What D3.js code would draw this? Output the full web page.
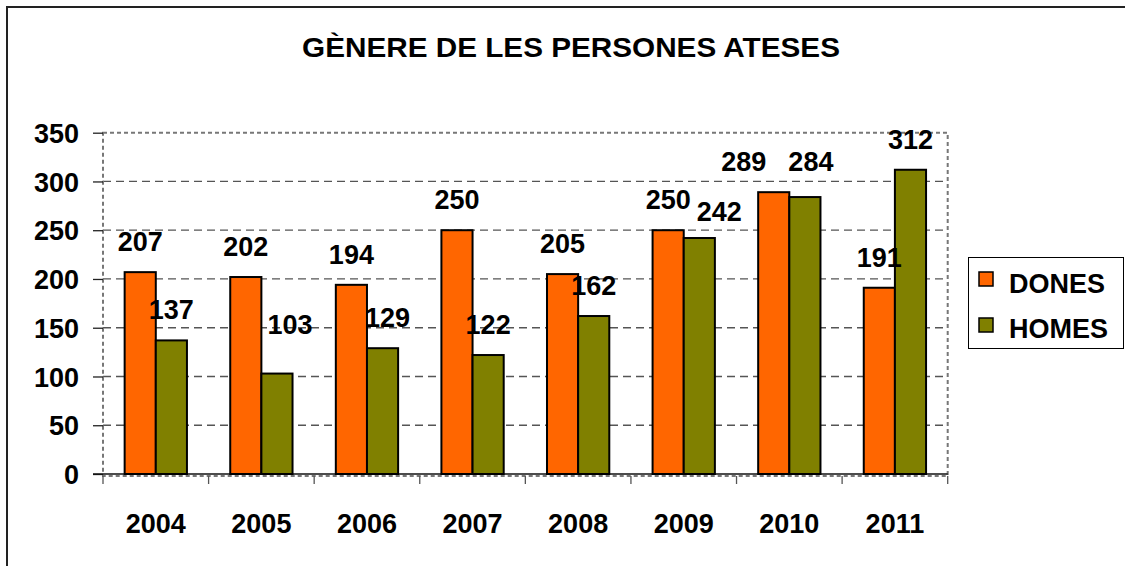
<!DOCTYPE html>
<html>
<head>
<meta charset="utf-8">
<script src="https://cdn.jsdelivr.net/npm/d3@7"></script>
<style>
  body { margin: 0; background: #fff; }
  text { font-family: "Liberation Sans", Arial, sans-serif; font-weight: bold; fill: #000; }
</style>
</head>
<body>
<div id="container"></div>
<script>
// data
const years = ["2004", "2005", "2006", "2007", "2008", "2009", "2010", "2011"];
const dones = [207, 202, 194, 250, 205, 250, 289, 191];
const homes = [137, 103, 129, 122, 162, 242, 284, 312];
const seriesNames = ["DONES", "HOMES"];
const yTicks = [0, 50, 100, 150, 200, 250, 300, 350];

// some labels were nudged by hand in the original chart (dx, dy in px)
const labelNudge = {
  "HOMES-2005": [13, -19],
  "HOMES-2006": [5, 0],
  "HOMES-2009": [20, 4],
  "DONES-2010": [-30, 0],
  "HOMES-2010": [6, -5]
};

function drawChart() {
  const width = 1125;
  const height = 566;
  const plot = { left: 103, right: 947.7, top: 132.7, bottom: 474 };
  const colors = ["#FF6600", "#808000"];

  const svg = d3.select("#container")
    .append("svg")
    .attr("width", width)
    .attr("height", height);

  // outer frame (only top and left edges show)
  svg.append("rect")
    .attr("x", 7).attr("y", 7)
    .attr("width", 1300).attr("height", 800)
    .attr("fill", "none")
    .attr("stroke", "#222")
    .attr("stroke-width", 2);

  // title, a bit wider than the plain font
  svg.append("text")
    .attr("transform", "translate(571,56.5) scale(1.1,1)")
    .attr("text-anchor", "middle")
    .style("font-size", "27px")
    .text("GÈNERE DE LES PERSONES ATESES");

  const yScale = d3.scaleLinear()
    .domain([0, 350])
    .range([plot.bottom, plot.top]);

  const x0 = d3.scaleBand()
    .domain(years)
    .range([plot.left, plot.right])
    .paddingInner(0.41)
    .paddingOuter(0.205);

  const x1 = d3.scaleBand()
    .domain(seriesNames)
    .range([0, x0.bandwidth()]);

  const step = x0.step();

  // gridlines
  svg.append("g")
    .selectAll("line")
    .data(yTicks.filter(d => d > 0 && d < 350))
    .join("line")
    .attr("x1", plot.left).attr("x2", plot.right)
    .attr("y1", d => yScale(d)).attr("y2", d => yScale(d))
    .attr("stroke", "#555")
    .attr("stroke-width", 1.3)
    .attr("stroke-dasharray", "8,5");

  // plot area border (dotted)
  svg.append("rect")
    .attr("x", plot.left).attr("y", yScale(350))
    .attr("width", plot.right - plot.left)
    .attr("height", plot.bottom + 2 - yScale(350))
    .attr("fill", "none")
    .attr("stroke", "#777")
    .attr("stroke-width", 2)
    .attr("stroke-dasharray", "4,3");

  // left axis
  const yAxis = svg.append("g")
    .attr("transform", `translate(${plot.left},0)`)
    .call(d3.axisLeft(yScale).tickValues(yTicks).tickSize(10).tickPadding(14));
  yAxis.select(".domain").remove();
  yAxis.selectAll(".tick line").attr("stroke", "#222").attr("stroke-width", 1.3);
  yAxis.selectAll("text")
    .style("font-size", "27px")
    .style("font-family", "'Liberation Sans', Arial, sans-serif")
    .style("font-weight", "bold")
    .attr("fill", "#000")
    .attr("dy", "0.36em");

  // bottom axis line
  svg.append("line")
    .attr("x1", plot.left - 10).attr("x2", plot.right)
    .attr("y1", plot.bottom).attr("y2", plot.bottom)
    .attr("stroke", "#111")
    .attr("stroke-width", 1.5);

  // category tick marks at the boundaries
  const bounds = years.map(y => x0(y) - step * x0.paddingOuter());
  bounds.push(plot.right);
  svg.append("g")
    .selectAll("line")
    .data(bounds)
    .join("line")
    .attr("x1", d => d).attr("x2", d => d)
    .attr("y1", plot.bottom + 2).attr("y2", plot.bottom + 10)
    .attr("stroke", "#555")
    .attr("stroke-width", 1.3);

  // year labels
  svg.append("g")
    .selectAll("text")
    .data(years)
    .join("text")
    .attr("x", d => x0(d) + x0.bandwidth() / 2)
    .attr("y", 533)
    .attr("text-anchor", "middle")
    .style("font-size", "27px")
    .text(d => d);

  // bars
  const rows = [];
  years.forEach((yr, i) => {
    rows.push({ year: yr, series: "DONES", value: dones[i], color: colors[0] });
    rows.push({ year: yr, series: "HOMES", value: homes[i], color: colors[1] });
  });

  svg.append("g")
    .selectAll("rect")
    .data(rows)
    .join("rect")
    .attr("x", d => x0(d.year) + x1(d.series))
    .attr("y", d => yScale(d.value))
    .attr("width", x1.bandwidth())
    .attr("height", d => plot.bottom - yScale(d.value))
    .attr("fill", d => d.color)
    .attr("stroke", "#000")
    .attr("stroke-width", 2);

  // value labels
  svg.append("g")
    .selectAll("text")
    .data(rows)
    .join("text")
    .attr("x", d => {
      const n = labelNudge[d.series + "-" + d.year] || [0, 0];
      return x0(d.year) + x1(d.series) + x1.bandwidth() / 2 + n[0];
    })
    .attr("y", d => {
      const n = labelNudge[d.series + "-" + d.year] || [0, 0];
      return yScale(d.value) - 21 + n[1];
    })
    .attr("text-anchor", "middle")
    .style("font-size", "27px")
    .text(d => d.value);

  // legend
  const legend = svg.append("g");
  legend.append("rect")
    .attr("x", 968.5).attr("y", 257.5)
    .attr("width", 155).attr("height", 91)
    .attr("fill", "#fff")
    .attr("stroke", "#000")
    .attr("stroke-width", 1);

  seriesNames.forEach((name, i) => {
    legend.append("rect")
      .attr("x", 979).attr("y", 272 + i * 46)
      .attr("width", 14).attr("height", 14)
      .attr("fill", colors[i])
      .attr("stroke", "#000")
      .attr("stroke-width", 1.5);
    legend.append("text")
      .attr("x", 1009).attr("y", 293 + i * 45)
      .style("font-size", "27px")
      .text(name);
  });
}

drawChart();
</script>
</body>
</html>
